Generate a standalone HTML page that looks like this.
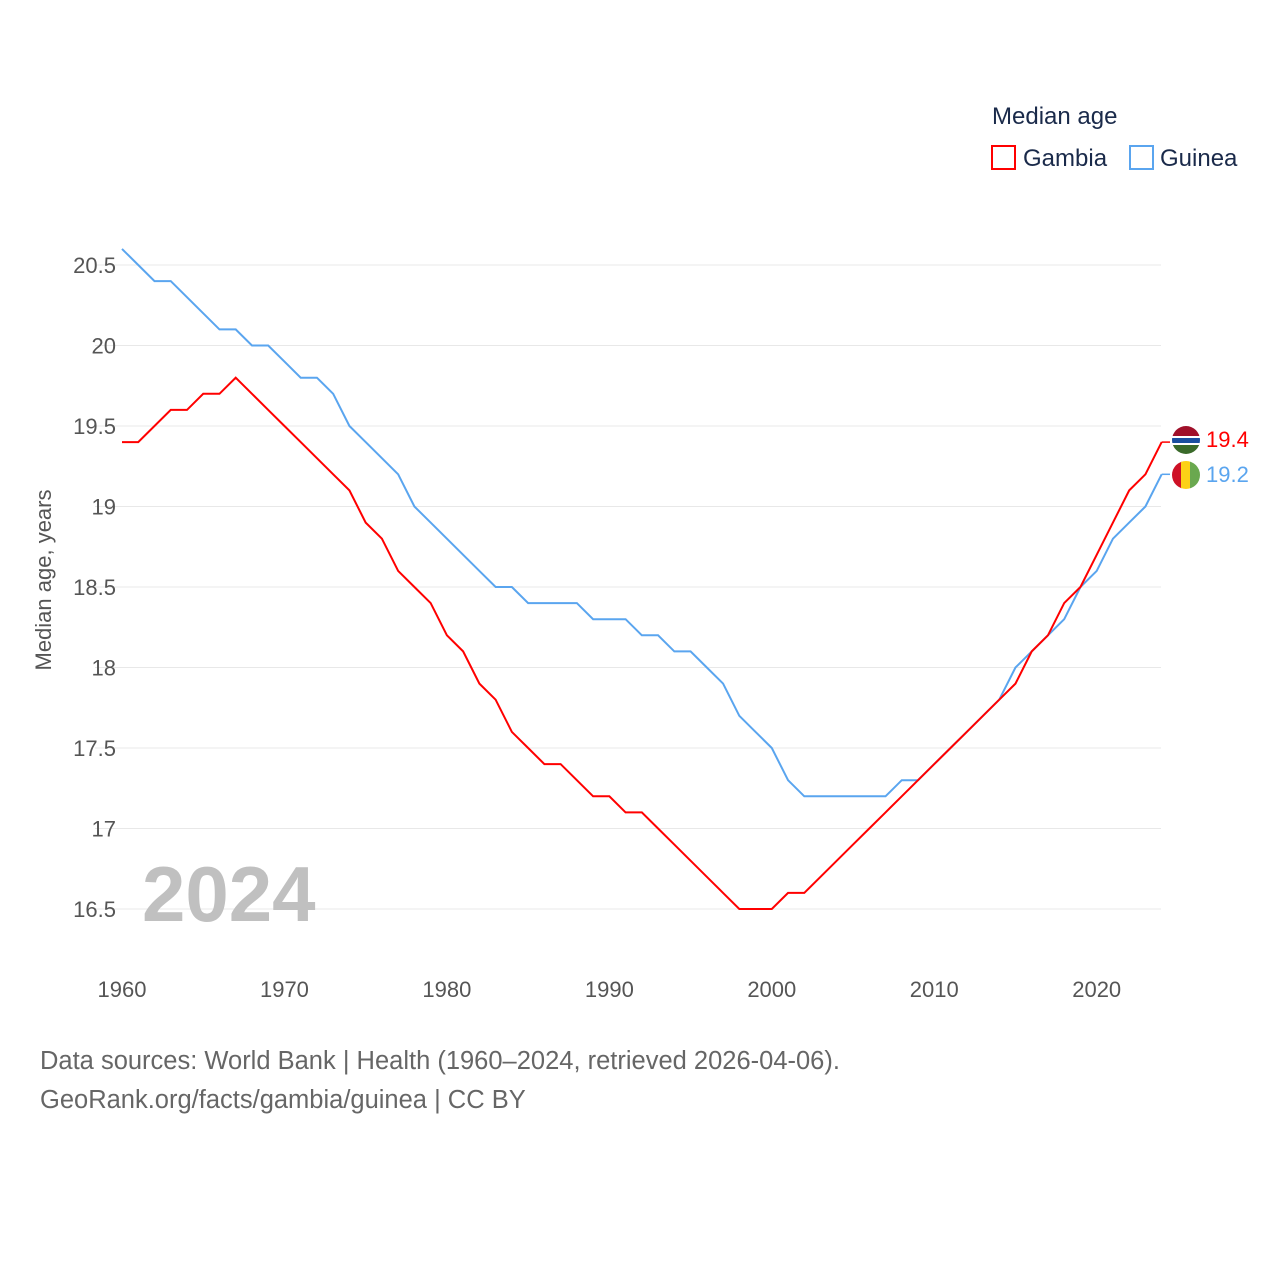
<!DOCTYPE html>
<html><head><meta charset="utf-8"><style>
body{margin:0;background:#fff;font-family:"Liberation Sans",sans-serif}
svg text{font-family:"Liberation Sans",sans-serif}
</style></head><body>
<svg id="chart" width="1280" height="1280" xmlns="http://www.w3.org/2000/svg">
<g id="grid"></g>
<g id="yticks"></g>
<g id="xticks"></g>
<text x="142" y="921" font-size="78" font-weight="bold" fill="#c0c0c0">2024</text>
<text transform="translate(51,580) rotate(-90)" text-anchor="middle" font-size="22" fill="#555">Median age, years</text>
<g id="lines"></g>
<g>
<text x="992" y="124" font-size="24" fill="#1a2a4a">Median age</text>
<rect x="992" y="146" width="23" height="23" fill="none" stroke="#f00" stroke-width="2"/>
<text x="1023" y="166" font-size="24" fill="#1a2a4a">Gambia</text>
<rect x="1130" y="146" width="23" height="23" fill="none" stroke="#5aa5ef" stroke-width="2"/>
<text x="1160" y="166" font-size="24" fill="#1a2a4a">Guinea</text>
</g>
<g>
<clipPath id="c1"><circle cx="1186" cy="440" r="14"/></clipPath>
<g clip-path="url(#c1)"><rect x="1172" y="426" width="28" height="10" fill="#a0102a"/><rect x="1172" y="436" width="28" height="2" fill="#fff"/><rect x="1172" y="438" width="28" height="5" fill="#1a4fa0"/><rect x="1172" y="443" width="28" height="2" fill="#fff"/><rect x="1172" y="445" width="28" height="10" fill="#3a6a2a"/></g>
</g>
<g>
<clipPath id="c2"><circle cx="1186" cy="475" r="14"/></clipPath>
<g clip-path="url(#c2)"><rect x="1172" y="461" width="10" height="28" fill="#ce1126"/><rect x="1181" y="461" width="10" height="28" fill="#fcd116"/><rect x="1190" y="461" width="10" height="28" fill="#6aa84f"/></g>
</g>
<text x="1206" y="447" font-size="22" fill="#f00">19.4</text>
<text x="1206" y="482" font-size="22" fill="#5aa5ef">19.2</text>
<text x="40" y="1069" font-size="25.5" fill="#666">Data sources: World Bank | Health (1960–2024, retrieved 2026-04-06).</text>
<text x="40" y="1108" font-size="25.5" fill="#666">GeoRank.org/facts/gambia/guinea | CC BY</text>
</svg>
<script>
const years=[];for(let y=1960;y<=2024;y++)years.push(y);
const gambia=[19.4,19.4,19.5,19.6,19.6,19.7,19.7,19.8,19.7,19.6,19.5,19.4,19.3,19.2,19.1,18.9,18.8,18.6,18.5,18.4,18.2,18.1,17.9,17.8,17.6,17.5,17.4,17.4,17.3,17.2,17.2,17.1,17.1,17.0,16.9,16.8,16.7,16.6,16.5,16.5,16.5,16.6,16.6,16.7,16.8,16.9,17.0,17.1,17.2,17.3,17.4,17.5,17.6,17.7,17.8,17.9,18.1,18.2,18.4,18.5,18.7,18.9,19.1,19.2,19.4];
const guinea=[20.6,20.5,20.4,20.4,20.3,20.2,20.1,20.1,20.0,20.0,19.9,19.8,19.8,19.7,19.5,19.4,19.3,19.2,19.0,18.9,18.8,18.7,18.6,18.5,18.5,18.4,18.4,18.4,18.4,18.3,18.3,18.3,18.2,18.2,18.1,18.1,18.0,17.9,17.7,17.6,17.5,17.3,17.2,17.2,17.2,17.2,17.2,17.2,17.3,17.3,17.4,17.5,17.6,17.7,17.8,18.0,18.1,18.2,18.3,18.5,18.6,18.8,18.9,19.0,19.2];
const yTicks=[16.5,17,17.5,18,18.5,19,19.5,20,20.5];
const xTicks=[1960,1970,1980,1990,2000,2010,2020];
const X=v=>122+(v-1960)*16.245;
const Y=v=>909-(v-16.5)*161;
const ns='http://www.w3.org/2000/svg';
function mk(t,a,p){const e=document.createElementNS(ns,t);for(const k in a)e.setAttribute(k,a[k]);document.getElementById(p).appendChild(e);return e;}
yTicks.forEach(v=>{
 const l=mk('line',{x1:95,x2:1161,y1:Y(v),y2:Y(v),stroke:'#e8e8e8','stroke-width':1},'grid');
 
 
 const t=mk('text',{x:116,y:Y(v)+8,'text-anchor':'end','font-size':22,fill:'#555'},'yticks');
 t.textContent=String(v);
 
 
});
xTicks.forEach(v=>{
 const t=mk('text',{x:X(v),y:997,'text-anchor':'middle','font-size':22,fill:'#555'},'xticks');
 t.textContent=String(v);
 
 
});
function line(d,c,n){
 const p=mk('polyline',{points:d.map((v,i)=>X(years[i])+','+Y(v)).join(' '),fill:'none',stroke:c,'stroke-width':2},'lines');
 
 
 const last=d.length-1;
 const e=mk('line',{x1:X(years[last]),x2:1170,y1:Y(d[last]),y2:Y(d[last]),stroke:c,'stroke-width':1.5},'lines');
 
 
}
line(guinea,'#5aa5ef','guinea-line');
line(gambia,'#f00','gambia-line');
</script>
</body></html>
